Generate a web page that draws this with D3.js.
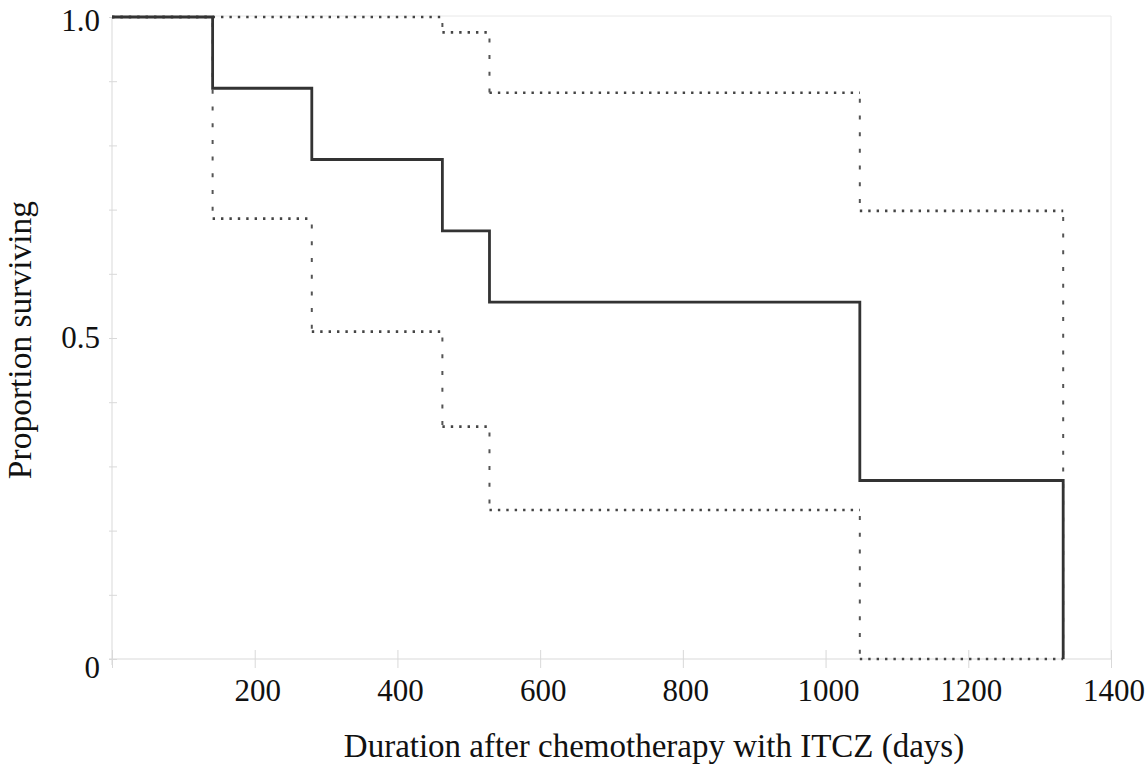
<!DOCTYPE html>
<html>
<head>
<meta charset="utf-8">
<script src="https://cdn.jsdelivr.net/npm/d3@7"></script>
<style>
html,body{margin:0;padding:0;background:#fff;}
svg{display:block;}
</style>
</head>
<body>
<svg id="chart" width="1145" height="765"></svg>
<script>
// Kaplan-Meier estimate (step times in days) with confidence limits
const times = [0, 141, 280, 463, 529, 1048, 1333];
const survival = [1.0, 0.889, 0.778, 0.667, 0.556, 0.278, 0];
const upperCI = [1.0, 1.0, 1.0, 0.976, 0.882, 0.698, 0];
const lowerCI = [1.0, 0.686, 0.510, 0.362, 0.232, 0, 0];
const xTickValues = [200, 400, 600, 800, 1000, 1200, 1400];
const yMinorTicks = [0, 0.1, 0.2, 0.3, 0.4, 0.5, 0.6, 0.7, 0.8, 0.9, 1.0];
const yTickLabels = [0, 0.5, 1.0];
const xTitle = "Duration after chemotherapy with ITCZ (days)";
const yTitle = "Proportion surviving";

const svg = d3.select("#chart");
const x = d3.scaleLinear().domain([0, 1400]).range([112, 1111]);
const y = d3.scaleLinear().domain([0, 1]).range([659, 17]);

const axisColor = "#d9d9d9";
const serif = "'Liberation Serif', 'Times New Roman', serif";

// frame (top and right)
svg.append("line").attr("x1", x(0)).attr("x2", x(1400)).attr("y1", y(1)-1).attr("y2", y(1)-1)
  .attr("stroke", "#e8e8e8").attr("stroke-width", 1);
svg.append("line").attr("x1", x(1400)).attr("x2", x(1400)).attr("y1", y(1)-1).attr("y2", y(0))
  .attr("stroke", "#e8e8e8").attr("stroke-width", 1);

// x axis
const gx = svg.append("g").attr("transform", `translate(0,${y(0)})`)
  .call(d3.axisBottom(x).tickValues([0].concat(xTickValues)).tickSize(9).tickFormat(""));
gx.select(".domain").attr("stroke", axisColor).attr("d", `M${x(0)-3},0H${x(1400)}`);
gx.selectAll(".tick line").attr("stroke", axisColor).attr("y1", -9).attr("y2", 9);

// y axis
const gy = svg.append("g").attr("transform", `translate(${x(0)},0)`)
  .call(d3.axisLeft(y).tickValues(yMinorTicks).tickSize(4).tickFormat(""));
gy.select(".domain").attr("stroke", axisColor).attr("d", `M0,${y(1)}V${y(0)+6}`);
gy.selectAll(".tick line").attr("stroke", axisColor).attr("x1", -3).attr("x2", 5);

// tick labels
svg.append("g").selectAll("text").data(xTickValues).join("text")
  .attr("x", d => x(d) + 3).attr("y", 701)
  .attr("text-anchor", "middle")
  .attr("font-family", serif).attr("font-size", 31).attr("fill", "#111")
  .text(d => d);
svg.append("g").selectAll("text").data(yTickLabels).join("text")
  .attr("x", 100).attr("y", d => y(d) + (d === 0 ? 19 : d === 1 ? 14 : 10))
  .attr("text-anchor", "end")
  .attr("font-family", serif).attr("font-size", 31).attr("fill", "#111")
  .text(d => d === 0 ? "0" : d3.format(".1f")(d));

// axis titles
svg.append("text").attr("x", 654).attr("y", 757).attr("text-anchor", "middle")
  .attr("font-family", serif).attr("font-size", 33).attr("fill", "#111").text(xTitle);
svg.append("text").attr("transform", "translate(31,340) rotate(-90)").attr("text-anchor", "middle")
  .attr("font-family", serif).attr("font-size", 33.5).attr("fill", "#111").text(yTitle);

// step path builders
function horizSegments(vals) {
  const segs = [];
  for (let i = 0; i < times.length - 1; i++) {
    segs.push([[times[i], vals[i]], [times[i+1], vals[i]]]);
  }
  return segs;
}
function vertSegments(vals) {
  const segs = [];
  for (let i = 1; i < times.length; i++) {
    if (vals[i] !== vals[i-1]) segs.push([[times[i], vals[i-1]], [times[i], vals[i]]]);
  }
  return segs;
}
const line = d3.line().x(d => x(d[0])).y(d => y(d[1]));

// confidence limits: dotted horizontals, sparse dashed verticals
[upperCI, lowerCI].forEach(vals => {
  svg.append("g").selectAll("path").data(horizSegments(vals)).join("path")
    .attr("d", line).attr("fill", "none")
    .attr("stroke", "#444").attr("stroke-width", 2.6)
    .attr("stroke-dasharray", "2.4,6.0");
  svg.append("g").selectAll("path").data(vertSegments(vals)).join("path")
    .attr("d", line).attr("fill", "none")
    .attr("stroke", "#555").attr("stroke-width", 2)
    .attr("stroke-dasharray", "4,12.7").attr("stroke-dashoffset", -6);
});

// survival curve
svg.append("path")
  .datum(times.map((t, i) => [t, survival[i]]))
  .attr("d", d3.line().x(d => x(d[0])).y(d => y(d[1])).curve(d3.curveStepAfter))
  .attr("fill", "none").attr("stroke", "#333").attr("stroke-width", 2.8);
</script>
</body>
</html>
